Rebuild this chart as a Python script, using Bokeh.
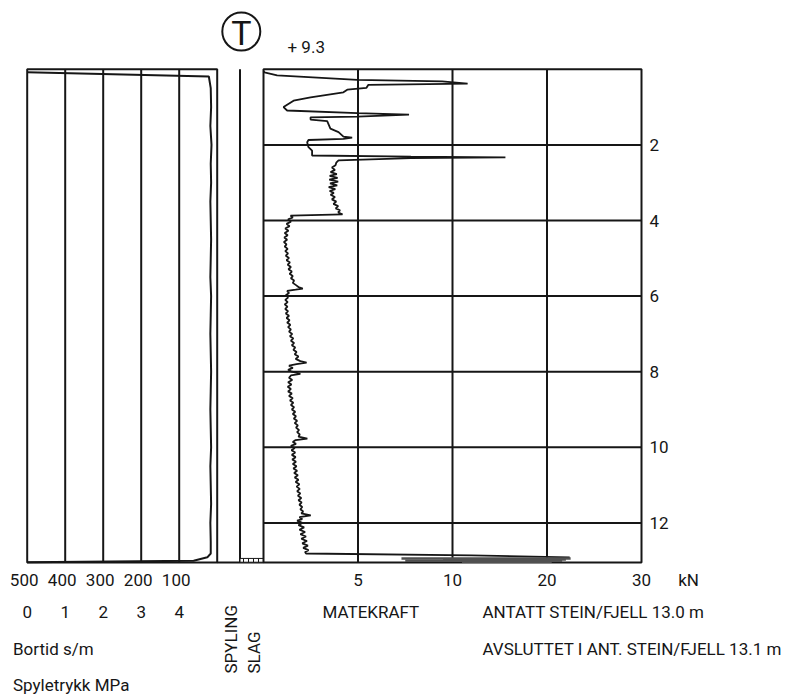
import numpy as np
from bokeh.plotting import figure
from bokeh.models import Range1d
from bokeh.core.properties import value
from bokeh.embed import file_html
from bokeh.resources import INLINE

# ------------------------------------------------------------------ data
# Matekraft (kN) against depth (m), in segments
mk_depth_1 = [0.05, 0.08, 0.16, 0.28, 0.32, 0.38, 0.41, 0.49, 0.54, 0.61, 0.74, 0.83,
              1.00, 1.09, 1.16, 1.20, 1.25, 1.27, 1.33, 1.37, 1.57, 1.66, 1.78, 1.81,
              1.84, 1.87, 1.93, 2.06, 2.15, 2.28, 2.31, 2.33, 2.35, 2.41]
mk_force_1 = [0.0, 0.05, 0.72, 4.97, 9.45, 11.6, 5.55, 5.45, 4.43, 4.23, 2.49, 1.59,
              1.06, 1.25, 4.97, 7.7, 4.97, 2.49, 2.49, 3.37, 3.54, 3.97, 4.23, 4.69,
              4.23, 2.38, 2.31, 2.38, 2.57, 2.57, 7.8, 15.6, 7.8, 3.97]

mk_depth_2 = [2.47, 2.54, 2.60, 2.66, 2.72, 2.77, 2.82, 2.87, 2.92, 2.97, 3.02, 3.07,
              3.12, 3.17, 3.22, 3.27, 3.32, 3.38, 3.44, 3.50, 3.56, 3.62, 3.68, 3.73,
              3.78, 3.84]
mk_force_2 = [3.85, 3.81, 3.62, 3.78, 3.55, 3.88, 3.50, 3.92, 3.48, 3.95, 3.52, 3.90,
              3.45, 3.80, 3.50, 3.72, 3.55, 3.78, 3.62, 3.85, 3.70, 3.95, 3.82, 4.05,
              3.95, 4.18]

mk_depth_3 = [3.87, 3.92, 3.97, 4.03, 4.09, 4.15, 4.21, 4.27, 4.33, 4.39, 4.45, 4.51,
              4.57, 4.63, 4.69, 4.75, 4.81, 4.87, 4.93, 4.99, 5.05, 5.11, 5.17, 5.23,
              5.29, 5.35, 5.41, 5.47, 5.53, 5.59, 5.65, 5.71, 5.76, 5.80, 5.83]
mk_force_3 = [1.43, 1.55, 1.30, 1.45, 1.22, 1.38, 1.15, 1.32, 1.12, 1.28, 1.10, 1.25,
              1.08, 1.22, 1.12, 1.28, 1.15, 1.30, 1.18, 1.35, 1.22, 1.40, 1.28, 1.45,
              1.32, 1.50, 1.38, 1.55, 1.45, 1.62, 1.55, 1.72, 1.85, 2.08, 1.70]

mk_depth_4 = [5.86, 5.92, 5.98, 6.04, 6.10, 6.16, 6.22, 6.28, 6.34, 6.40, 6.46, 6.52,
              6.58, 6.64, 6.70, 6.76, 6.82, 6.88, 6.94, 7.00, 7.06, 7.12, 7.18, 7.24,
              7.30, 7.36, 7.42, 7.48, 7.54, 7.60, 7.66, 7.72, 7.76, 7.80, 7.84, 7.90,
              7.95, 8.00, 8.06, 8.10]
mk_force_4 = [1.25, 1.35, 1.18, 1.30, 1.15, 1.28, 1.12, 1.27, 1.15, 1.30, 1.18, 1.35,
              1.22, 1.38, 1.25, 1.42, 1.30, 1.45, 1.35, 1.52, 1.40, 1.58, 1.45, 1.62,
              1.50, 1.68, 1.58, 1.75, 1.65, 1.85, 1.70, 1.95, 2.28, 1.75, 1.35, 1.55,
              1.30, 1.50, 1.95, 1.45]

mk_depth_5 = [8.16, 8.22, 8.28, 8.34, 8.40, 8.46, 8.52, 8.58, 8.64, 8.70, 8.76, 8.82,
              8.88, 8.94, 9.00, 9.06, 9.12, 9.18, 9.24, 9.30, 9.36, 9.42, 9.48, 9.54,
              9.60, 9.66, 9.72, 9.77, 9.81, 9.86, 9.91]
mk_force_5 = [1.35, 1.52, 1.30, 1.48, 1.28, 1.45, 1.30, 1.50, 1.35, 1.55, 1.40, 1.58,
              1.45, 1.62, 1.50, 1.68, 1.55, 1.72, 1.60, 1.78, 1.65, 1.82, 1.72, 1.88,
              1.78, 1.92, 1.85, 2.32, 1.70, 1.55, 1.72]

mk_depth_6 = [9.96, 10.02, 10.08, 10.14, 10.20, 10.26, 10.32, 10.38, 10.44, 10.50,
              10.56, 10.62, 10.68, 10.74, 10.80, 10.86, 10.92, 10.98, 11.04, 11.10,
              11.16, 11.22, 11.28, 11.34, 11.40, 11.46, 11.52, 11.58, 11.64, 11.70,
              11.75, 11.80, 11.85, 11.90, 11.94]
mk_force_6 = [1.45, 1.65, 1.48, 1.68, 1.50, 1.70, 1.52, 1.72, 1.55, 1.75,
              1.58, 1.78, 1.62, 1.82, 1.65, 1.85, 1.70, 1.90, 1.75, 1.92,
              1.78, 1.95, 1.82, 2.00, 1.85, 2.02, 1.90, 2.05, 1.95, 2.10,
              2.00, 2.50, 1.90, 2.05, 1.78]

mk_depth_7 = [12.00, 12.06, 12.12, 12.18, 12.24, 12.30, 12.36, 12.42, 12.48, 12.54,
              12.60, 12.66, 12.72, 12.77, 12.81, 12.86, 12.91]
mk_force_7 = [2.05, 1.85, 2.15, 1.90, 2.20, 1.95, 2.25, 2.00, 2.30, 2.05,
              2.35, 2.10, 2.38, 2.20, 2.25, 12.0, 22.4]

# grey band of high thrust while hammering at the bottom
band_depth = [12.94, 12.97, 13.00, 13.03]
band_force_min = [7.3, 9.5, 7.5, 11.0]
band_force_max = [22.5, 22.0, 21.6, 20.5]

# Bortid (s/m) against depth (m)
bortid_depth = [0.08, 0.19, 0.5, 1.0, 1.5, 2.0, 2.5, 3.0, 3.5, 4.0, 4.5, 5.0, 5.5, 6.0,
                6.5, 7.0, 7.5, 8.0, 8.5, 9.0, 9.5, 10.0, 10.5, 11.0, 11.5, 12.0, 12.5,
                12.81, 12.91, 13.00, 13.04]
bortid_value = [500, 22, 17, 16, 18, 15, 17, 16, 18, 17, 16, 17, 18, 16,
                17, 18, 17, 16, 17, 18, 17, 16, 18, 17, 16, 18, 17,
                17, 26, 62, 500]

# Slag (hammering) interval
slag_top = [12.94]
slag_bottom = [13.04]

# axes / tick labels
force_ticks = [0, 5, 10, 20, 30]
force_tick_labels = ["5", "10", "20", "30"]
depth_ticks = [2, 4, 6, 8, 10, 12]
bortid_ticks = [500, 400, 300, 200, 100]
spyle_ticks = [0, 1, 2, 3, 4]
depth_end = 13.05
elevation_text = "+ 9.3"

# ------------------------------------------------------------------ layout
W, H = 786, 695
PX_UNIT = 94.5          # px per main-panel interval
MAIN_LEFT_PX = 263.0
PX_M = 37.8             # px per metre depth
TOP_PX = 68.8


def ux(px):
    return (px - MAIN_LEFT_PX) / PX_UNIT


def dy(py):
    return (py - TOP_PX) / PX_M


LEFT_X1 = ux(216.7)
LEFT_DX = 38.0 / PX_UNIT
LEFT_X0 = LEFT_X1 - 5 * LEFT_DX
SLAG_X = ux(239.5)
MAIN_X1 = len(force_ticks) - 1


def fx(kn):
    return np.interp(kn, force_ticks, np.arange(len(force_ticks)))


def bx(b):
    return LEFT_X1 - np.asarray(b, dtype=float) / 100.0 * LEFT_DX


def sx(s):
    return LEFT_X0 + np.asarray(s, dtype=float) * LEFT_DX


INK = "#161616"
FONT = value("Roboto")
FS = "17px"

p = figure(width=W, height=H, output_backend="svg", toolbar_location=None,
           x_range=Range1d(ux(0), ux(W)), y_range=Range1d(dy(H), dy(0)),
           x_axis_location=None, y_axis_location=None, min_border=0)
p.grid.visible = False
p.outline_line_color = None
p.background_fill_color = "white"
p.border_fill_color = "white"

# ---- left panel (bortid / spyletrykk)
p.quad(left=[LEFT_X0], right=[LEFT_X1], top=[0], bottom=[depth_end],
       fill_color=None, line_color=INK, line_width=2)
for b in bortid_ticks[1:]:
    p.segment(x0=[bx(b)], y0=[0], x1=[bx(b)], y1=[depth_end], line_color=INK, line_width=2)
p.line(bx(bortid_value), bortid_depth, line_color=INK, line_width=2)

# ---- spyling / slag columns
p.segment(x0=[SLAG_X], y0=[0], x1=[SLAG_X], y1=[depth_end], line_color=INK, line_width=2)
p.segment(x0=[LEFT_X1], y0=[depth_end], x1=[0], y1=[depth_end], line_color=INK, line_width=2)
p.quad(left=[SLAG_X], right=[0], top=slag_top, bottom=slag_bottom,
       fill_color="white", line_color=INK, line_width=1,
       hatch_pattern="vertical_line", hatch_scale=5, hatch_color=INK, hatch_weight=1)

# ---- main panel (matekraft)
p.quad(left=[0], right=[MAIN_X1], top=[0], bottom=[depth_end],
       fill_color=None, line_color=INK, line_width=2)
for i in range(1, MAIN_X1):
    p.segment(x0=[i], y0=[0], x1=[i], y1=[depth_end], line_color=INK, line_width=2)
for d in depth_ticks:
    p.segment(x0=[0], y0=[d], x1=[MAIN_X1], y1=[d], line_color=INK, line_width=2)

mk_depth = (mk_depth_1 + mk_depth_2 + mk_depth_3 + mk_depth_4 + mk_depth_5
            + mk_depth_6 + mk_depth_7)
mk_force = (mk_force_1 + mk_force_2 + mk_force_3 + mk_force_4 + mk_force_5
            + mk_force_6 + mk_force_7)
p.line(fx(mk_force), mk_depth, line_color=INK, line_width=1.8)
p.segment(x0=fx(band_force_min), y0=band_depth, x1=fx(band_force_max), y1=band_depth,
          line_color="#505050", line_width=2.5)

# ---- symbol and elevation
p.scatter(x=[ux(240.8)], y=[dy(31)], size=38, marker="circle",
          fill_color=None, line_color=INK, line_width=2)
p.text(x=[ux(241)], y=[dy(32)], text=["T"], text_font=FONT, text_font_size="34px",
       text_align="center", text_baseline="middle", text_color=INK)
p.text(x=[ux(287)], y=[dy(46)], text=[elevation_text], text_font=FONT, text_font_size=FS,
       text_align="left", text_baseline="middle", text_color=INK)

# ---- depth labels
p.text(x=[ux(649)] * len(depth_ticks), y=depth_ticks, text=[str(d) for d in depth_ticks],
       text_font=FONT, text_font_size=FS, text_align="left", text_baseline="middle",
       text_color=INK)

# ---- bottom rows
ROW1, ROW2, ROW3, ROW4 = dy(579), dy(611), dy(648), dy(684)
p.text(x=bx(bortid_ticks), y=[ROW1] * len(bortid_ticks), text=[str(b) for b in bortid_ticks],
       text_font=FONT, text_font_size=FS, text_align="center", text_baseline="middle",
       x_offset=-3, text_color=INK)
p.text(x=fx(force_ticks[1:]), y=[ROW1] * len(force_tick_labels), text=force_tick_labels,
       text_font=FONT, text_font_size=FS, text_align="center", text_baseline="middle",
       text_color=INK)
p.text(x=[ux(688)], y=[ROW1], text=["kN"], text_font=FONT, text_font_size=FS,
       text_align="center", text_baseline="middle", text_color=INK)
p.text(x=sx(spyle_ticks), y=[ROW2] * len(spyle_ticks), text=[str(s) for s in spyle_ticks],
       text_font=FONT, text_font_size=FS, text_align="center", text_baseline="middle",
       text_color=INK)
p.text(x=[ux(322), ux(482)], y=[ROW2, ROW2],
       text=["MATEKRAFT", "ANTATT STEIN/FJELL 13.0 m"], text_font=FONT, text_font_size=FS,
       text_align="left", text_baseline="middle", text_color=INK)
p.text(x=[ux(12.5), ux(482)], y=[ROW3, ROW3],
       text=["Bortid s/m", "AVSLUTTET I ANT. STEIN/FJELL 13.1 m"], text_font=FONT,
       text_font_size=FS, text_align="left", text_baseline="middle", text_color=INK)
p.text(x=[ux(12.5)], y=[ROW4], text=["Spyletrykk MPa"], text_font=FONT, text_font_size=FS,
       text_align="left", text_baseline="middle", text_color=INK)
p.text(x=[ux(230.5), ux(253.5)], y=[dy(673), dy(673)], text=["SPYLING", "SLAG"],
       angle=np.pi / 2, text_font=FONT, text_font_size=FS, text_align="left",
       text_baseline="middle", text_color=INK)

open("out.html", "w").write(file_html(p, INLINE))
